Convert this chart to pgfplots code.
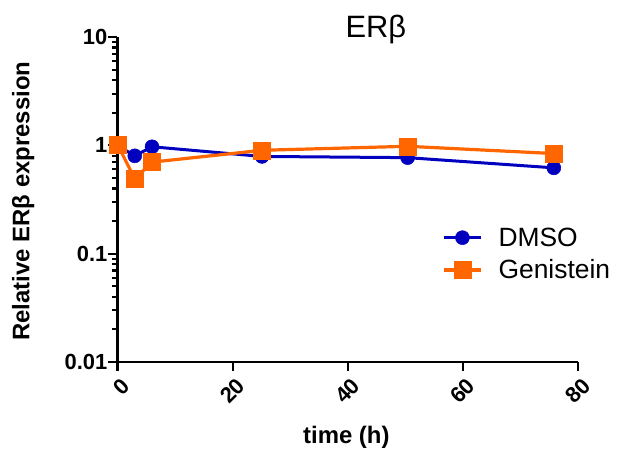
\documentclass[border=0pt]{standalone}
\usepackage{pgfplots}
\pgfplotsset{compat=1.18}
\usepackage{fontspec}
\setmainfont{Liberation Sans}
\definecolor{dmso}{RGB}{0,0,190}
\definecolor{gen}{RGB}{255,102,0}

\begin{document}
\begin{tikzpicture}
\path[use as bounding box] (-117.5bp,-94bp) rectangle (510.5bp,362bp);
\begin{axis}[
  at={(0,0)}, anchor=south west,
  scale only axis, width=460.5bp, height=325bp,
  ymode=log, xmin=0, xmax=80, ymin=0.01, ymax=10,
  axis x line=bottom, axis y line=left,
  axis line style={-, line width=2.4bp},
  tick align=outside,
  every tick/.style={black, line width=2.2bp},
  major tick length=9bp, minor tick length=5bp,
  xtick={0,20,40,60,80}, xticklabels={0,20,40,60,80},
  ytick={0.01,0.1,1,10}, yticklabels={0.01,0.1,1,10},
  minor ytick={0.02,0.03,0.04,0.05,0.06,0.07,0.08,0.09,
               0.2,0.3,0.4,0.5,0.6,0.7,0.8,0.9,
               2,3,4,5,6,7,8,9},
  yticklabel style={font=\bfseries\fontsize{22}{22}\selectfont, inner sep=1bp},
  xticklabel style={font=\bfseries\fontsize{22}{22}\selectfont, rotate=45, anchor=north east, inner sep=0bp, xshift=-2bp, yshift=-6bp},
  xlabel={time (h)},
  xlabel style={at={(axis description cs:0.497,-0.231)}, anchor=center, font=\bfseries\fontsize{24}{24}\selectfont},
  ylabel={Relative ERβ expression},
  ylabel style={at={(axis description cs:-0.205,0.495)}, anchor=center, rotate=0, font=\bfseries\fontsize{24}{24}\selectfont},
  clip=false,
  legend style={draw=none, fill=none, at={(axis description cs:0.705,0.42)}, anchor=north west,
    font=\fontsize{26.5}{26.5}\selectfont, row sep=8bp, inner sep=0pt,
    /tikz/every odd column/.append style={column sep=14bp}},
  legend cell align=left,
  legend image code/.code={\draw[mark repeat=2, mark phase=2, #1] plot coordinates {(0bp,0bp) (18.5bp,0bp) (37bp,0bp)};},
]
\addplot[dmso, line width=3bp, mark=*, mark size=7bp, mark options={solid, line width=0.5bp}]
  coordinates {(0,1.0) (3,0.80) (6,0.97) (25.1,0.79) (50.4,0.77) (75.8,0.62)};
\addlegendentry{DMSO}
\addplot[gen, line width=3.2bp, mark=square*, mark size=8.5bp, mark options={solid, line width=0.5bp, rounded corners=2bp}]
  coordinates {(0,1.02) (3,0.49) (6,0.70) (25.1,0.90) (50.4,0.98) (75.8,0.84)};
\addlegendentry{Genistein}
\node[anchor=base, font=\fontsize{31}{31}\selectfont] at (rel axis cs:0.561,1) {ERβ};
\end{axis}
\end{tikzpicture}
\end{document}
